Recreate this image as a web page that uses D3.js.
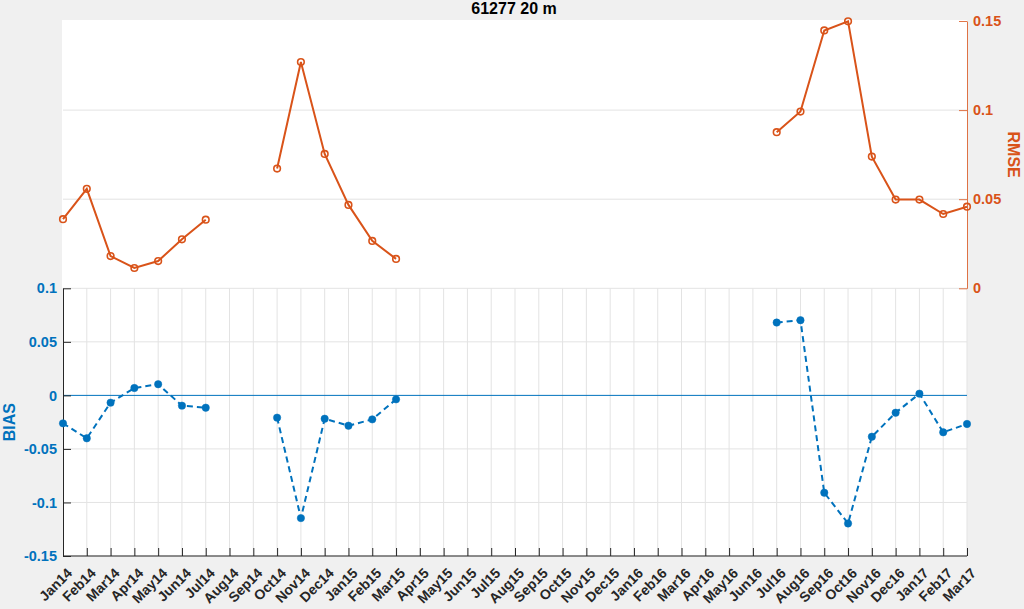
<!DOCTYPE html>
<html><head><meta charset="utf-8">
<script src="https://cdn.jsdelivr.net/npm/d3@7"></script>
<style>
html,body{margin:0;padding:0;background:#f0f0f0;}
svg{display:block;font-family:"Liberation Sans",Arial,Helvetica,sans-serif;}
</style></head><body>
<svg id="chart" width="1024" height="609"></svg>
<script>
const months = ["Jan14","Feb14","Mar14","Apr14","May14","Jun14","Jul14","Aug14","Sep14","Oct14","Nov14","Dec14",
"Jan15","Feb15","Mar15","Apr15","May15","Jun15","Jul15","Aug15","Sep15","Oct15","Nov15","Dec15",
"Jan16","Feb16","Mar16","Apr16","May16","Jun16","Jul16","Aug16","Sep16","Oct16","Nov16","Dec16",
"Jan17","Feb17","Mar17"];
const rmse = [0.0388,0.0558,0.0181,0.0114,0.0153,0.0275,0.0385,null,null,0.0672,0.1270,0.0754,
0.0468,0.0266,0.0165,null,null,null,null,null,null,null,null,null,
null,null,null,null,null,null,0.0876,0.0992,0.1447,0.1498,0.0739,0.0498,
0.0498,0.0417,0.0458];
const bias = [-0.0261,-0.0401,-0.0068,0.0069,0.0104,-0.0096,-0.0115,null,null,-0.0208,-0.1146,-0.0218,
-0.0283,-0.0224,-0.0037,null,null,null,null,null,null,null,null,null,
null,null,null,null,null,null,0.0680,0.0702,-0.0909,-0.1196,-0.0386,-0.0162,
0.0016,-0.0345,-0.0267];
const rmseTicks = [0,0.05,0.1,0.15];
const biasTicks = [-0.15,-0.1,-0.05,0,0.05,0.1];
const title = "61277 20 m";

const blue = "#0072BD", orange = "#D95319", axisCol = "#262626", gridCol = "#e3e3e3";
const svg = d3.select("#chart");
const L = 63, R = 967, topT = 21, topB = 288.3, botT = 288.3, botB = 556;

const x = d3.scalePoint().domain(months).range([L, R]);
const yR = d3.scaleLinear().domain([0, 0.15]).range([topB, topT]);
const yB = d3.scaleLinear().domain([-0.15, 0.1]).range([botB, botT]);

svg.append("rect").attr("x", L - 1).attr("y", 20).attr("width", R - L + 1).attr("height", botB - 20).attr("fill", "#fff");

svg.append("g").selectAll("line").data(rmseTicks.filter(d => d > 0 && d < 0.15)).join("line")
  .attr("x1", L).attr("x2", R).attr("y1", d => yR(d)).attr("y2", d => yR(d))
  .attr("stroke", gridCol).attr("stroke-width", 1);

svg.append("g").selectAll("line").data(months).join("line")
  .attr("x1", d => x(d)).attr("x2", d => x(d)).attr("y1", botT).attr("y2", botB)
  .attr("stroke", gridCol).attr("stroke-width", 1);
svg.append("g").selectAll("line").data(biasTicks.filter(d => d !== 0)).join("line")
  .attr("x1", L).attr("x2", R).attr("y1", d => yB(d)).attr("y2", d => yB(d))
  .attr("stroke", gridCol).attr("stroke-width", 1);

svg.append("line").attr("x1", L).attr("x2", R).attr("y1", yB(0)).attr("y2", yB(0))
  .attr("stroke", blue).attr("stroke-width", 1);

const xAxis = d3.axisBottom(x).tickSizeInner(-8).tickSizeOuter(0).tickFormat("");
const gx = svg.append("g").attr("transform", `translate(0,${botB})`).call(xAxis);
gx.selectAll("path,line").attr("stroke", axisCol);
gx.select(".domain").attr("d", `M${L},0H${R}`);

svg.append("g").selectAll("text").data(months).join("text")
  .attr("transform", d => `translate(${x(d) + 10},574) rotate(-45)`)
  .attr("text-anchor", "end").attr("font-size", "14px").attr("font-weight", "bold")
  .attr("fill", axisCol).text(d => d);

const yAxisL = d3.axisLeft(yB).tickValues(biasTicks).tickSizeInner(-8).tickSizeOuter(0).tickPadding(6)
  .tickFormat(d => d === 0 ? "0" : String(+d.toFixed(2)));
const gyl = svg.append("g").attr("transform", `translate(${L},0)`).call(yAxisL);
gyl.selectAll("path,line").attr("stroke", axisCol);
gyl.selectAll("text").attr("fill", blue).attr("font-size", "14.5px").attr("font-weight", "bold")
  .attr("font-family", '"Liberation Sans",Arial,sans-serif');

const yAxisR = d3.axisRight(yR).tickValues(rmseTicks).tickSizeInner(-8).tickSizeOuter(0).tickPadding(6)
  .tickFormat(d => d === 0 ? "0" : String(+d.toFixed(2)));
const gyr = svg.append("g").attr("transform", `translate(${R},0)`).call(yAxisR);
gyr.selectAll("path,line").attr("stroke", orange).attr("stroke-opacity", 0.8);
gyr.selectAll("text").attr("fill", orange).attr("font-size", "14.5px").attr("font-weight", "bold")
  .attr("font-family", '"Liberation Sans",Arial,sans-serif');

const rData = months.map((m, i) => ({m, v: rmse[i]}));
const bData = months.map((m, i) => ({m, v: bias[i]}));

svg.append("path").datum(rData)
  .attr("d", d3.line().defined(d => d.v !== null).x(d => x(d.m)).y(d => yR(d.v)))
  .attr("fill", "none").attr("stroke", orange).attr("stroke-width", 2);
svg.append("g").selectAll("circle").data(rData.filter(d => d.v !== null)).join("circle")
  .attr("cx", d => x(d.m)).attr("cy", d => yR(d.v)).attr("r", 3.3)
  .attr("fill", "none").attr("stroke", orange).attr("stroke-width", 1.6);

svg.append("path").datum(bData)
  .attr("d", d3.line().defined(d => d.v !== null).x(d => x(d.m)).y(d => yB(d.v)))
  .attr("fill", "none").attr("stroke", blue).attr("stroke-width", 2).attr("stroke-dasharray", "6,4");
svg.append("g").selectAll("circle").data(bData.filter(d => d.v !== null)).join("circle")
  .attr("cx", d => x(d.m)).attr("cy", d => yB(d.v)).attr("r", 3.7)
  .attr("fill", blue).attr("stroke", blue).attr("stroke-width", 0.5);

svg.append("text").attr("x", 514).attr("y", 14).attr("text-anchor", "middle")
  .attr("font-size", "16px").attr("font-weight", "bold").attr("fill", "#000").text(title);
svg.append("text").attr("transform", `translate(1008,${(topT + topB) / 2}) rotate(90)`)
  .attr("text-anchor", "middle").attr("font-size", "16px").attr("font-weight", "bold")
  .attr("fill", orange).text("RMSE");
svg.append("text").attr("transform", `translate(15,${(botT + botB) / 2}) rotate(-90)`)
  .attr("text-anchor", "middle").attr("font-size", "16px").attr("font-weight", "bold")
  .attr("fill", blue).text("BIAS");
</script>
</body></html>
